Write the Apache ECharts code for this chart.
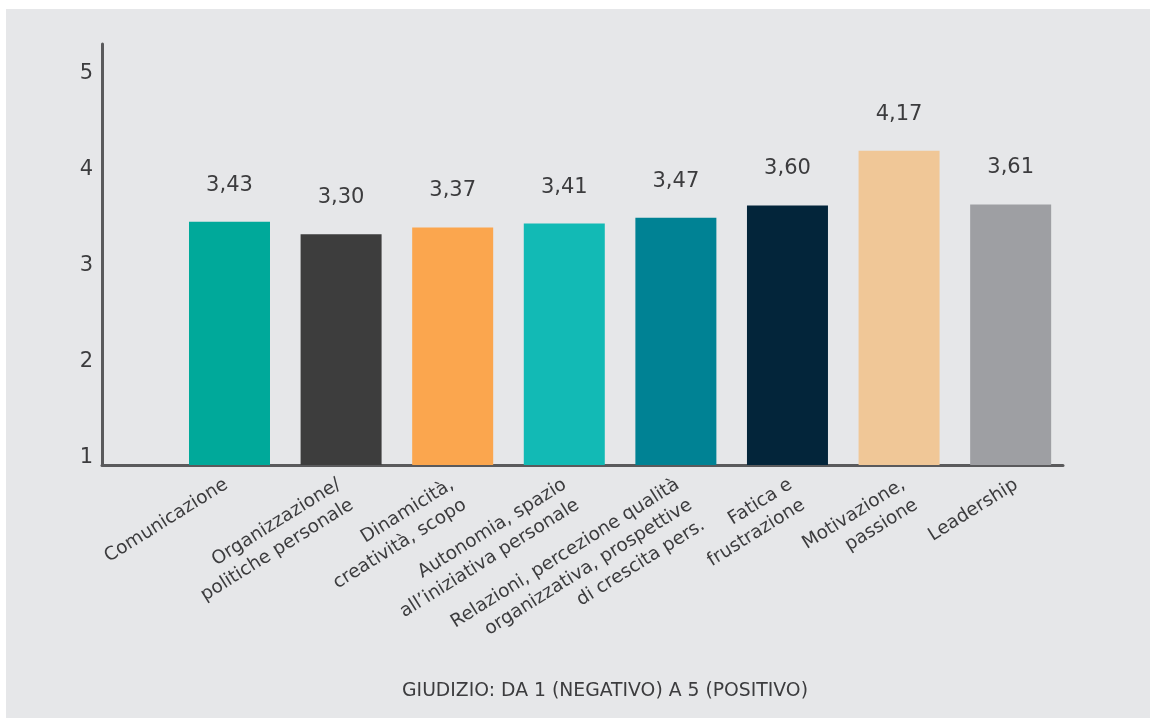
<!DOCTYPE html>
<html>
<head>
<meta charset="utf-8">
<script src="https://cdn.jsdelivr.net/npm/echarts@6/dist/echarts.min.js"></script>
<style>
  html, body { margin: 0; padding: 0; background: #ffffff; width: 1150px; height: 718px; overflow: hidden; }
  #chart { position: absolute; left: 6px; top: 9px; width: 1144px; height: 709px; background: #e6e7e9; }
</style>
</head>
<body>
<div id="chart"></div>
<script>
// ---- data ----
const categories = [
  "Comunicazione",
  "Organizzazione/\npolitiche personale",
  "Dinamicità,\ncreatività, scopo",
  "Autonomia, spazio\nall’iniziativa personale",
  "Relazioni, percezione qualità\norganizzativa, prospettive\ndi crescita pers.",
  "Fatica e\nfrustrazione",
  "Motivazione,\npassione",
  "Leadership"
];
const values = [3.43, 3.30, 3.37, 3.41, 3.47, 3.60, 4.17, 3.61];
const yTicks = [1, 2, 3, 4, 5];
const axisTitle = "GIUDIZIO: DA 1 (NEGATIVO) A 5 (POSITIVO)";

// ---- styles ----
const colors = ["#00a99a", "#3d3d3d", "#fba64e", "#12bab5", "#008294", "#03253a", "#f0c797", "#9e9fa3"];
const FONT = "DejaVu Sans";
const TEXT = "#3c3c3e";
const AXIS = "#5a5a5c";

const positions = categories.map((c, i) => i + 1);
const chart = echarts.init(document.getElementById('chart'), null, { renderer: 'canvas' });

chart.setOption({
  animation: false,
  backgroundColor: 'transparent',
  grid: { left: 96, right: 87, top: 35, bottom: 253, containLabel: false },
  xAxis: [{
    // bar axis
    type: 'value',
    min: -0.1425,
    max: 8.469,
    axisLine: { show: true, onZero: false, lineStyle: { color: AXIS, width: 3 } },
    axisTick: { show: false },
    splitLine: { show: false },
    axisLabel: { show: false }
  }, {
    // category label axis (labels are spread slightly wider than the bars in the original)
    type: 'value',
    position: 'bottom',
    min: -0.0455,
    max: 8.4697,
    axisLine: { show: false, onZero: false },
    axisTick: { show: false },
    splitLine: { show: false },
    axisLabel: {
      customValues: positions,
      formatter: v => categories[Math.round(v) - 1] || '',
      rotate: 32,
      margin: 8,
      color: TEXT,
      fontFamily: FONT,
      fontSize: 18.5,
      lineHeight: 24,
      align: 'right',
      verticalAlign: 'top'
    }
  }],
  yAxis: {
    type: 'value',
    min: 0.8958,
    max: 5.281,
    axisLine: { show: true, onZero: false, lineStyle: { color: AXIS, width: 3 } },
    axisTick: { show: false },
    splitLine: { show: false },
    axisLabel: {
      customValues: yTicks,
      formatter: v => String(v),
      color: TEXT,
      fontFamily: FONT,
      fontSize: 21,
      verticalAlign: 'top',
      lineHeight: 6,
      margin: 9
    }
  },
  series: [{
    type: 'bar',
    xAxisIndex: 0,
    clip: true,
    barWidth: 81,
    data: values.map((v, i) => ({ value: [positions[i], v], itemStyle: { color: colors[i] } })),
    label: {
      show: true,
      position: 'top',
      distance: 26,
      formatter: p => p.value[1].toFixed(2).replace('.', ','),
      color: TEXT,
      fontFamily: FONT,
      fontSize: 21
    }
  }],
  graphic: [{
    type: 'text',
    x: 599,
    y: 682,
    style: {
      text: axisTitle,
      fill: TEXT,
      font: '18.8px "' + FONT + '"',
      textAlign: 'center',
      textVerticalAlign: 'middle'
    }
  }]
});
</script>
</body>
</html>
